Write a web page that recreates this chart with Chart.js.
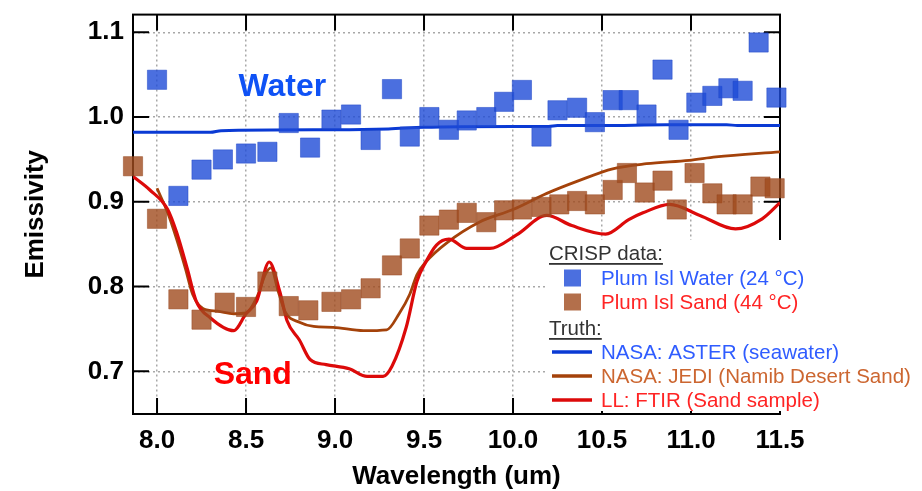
<!DOCTYPE html>
<html><head><meta charset="utf-8">
<script src="https://cdn.jsdelivr.net/npm/chart.js@4.4.0/dist/chart.umd.min.js"></script>
<style>html,body{margin:0;padding:0;background:#fff;overflow:hidden;}</style>
</head><body>
<canvas id="c" width="922" height="491"></canvas>
<script>
// ---------- data ----------
const xTicks = [8.0, 8.5, 9.0, 9.5, 10.0, 10.5, 11.0, 11.5];
const xTickLabels = ['8.0','8.5','9.0','9.5','10.0','10.5','11.0','11.5'];
const yTicks = [0.7, 0.8, 0.9, 1.0, 1.1];
const yTickLabels = ['0.7','0.8','0.9','1.0','1.1'];

const waterX = [8.00, 8.12, 8.25, 8.37, 8.50, 8.62, 8.74, 8.86, 8.98, 9.09, 9.20, 9.32, 9.42, 9.53, 9.64, 9.74, 9.85, 9.95, 10.05, 10.16, 10.25, 10.36, 10.46, 10.56, 10.65, 10.75, 10.84, 10.93, 11.03, 11.12, 11.21, 11.29, 11.38, 11.48];
const waterY = [1.044, 0.907, 0.938, 0.950, 0.957, 0.959, 0.993, 0.964, 0.997, 1.003, 0.973, 1.033, 0.977, 1.000, 0.985, 0.996, 1.000, 1.018, 1.032, 0.977, 1.008, 1.011, 0.994, 1.020, 1.020, 1.003, 1.056, 0.985, 1.017, 1.025, 1.034, 1.031, 1.088, 1.023];

const sandX = [7.865, 8.00, 8.12, 8.25, 8.38, 8.50, 8.62, 8.74, 8.85, 8.98, 9.09, 9.20, 9.32, 9.42, 9.53, 9.64, 9.74, 9.85, 9.95, 10.05, 10.16, 10.26, 10.36, 10.46, 10.56, 10.64, 10.74, 10.84, 10.92, 11.02, 11.12, 11.20, 11.29, 11.39, 11.47];
const sandY = [0.942, 0.880, 0.785, 0.761, 0.781, 0.776, 0.806, 0.777, 0.772, 0.782, 0.785, 0.798, 0.825, 0.845, 0.872, 0.879, 0.887, 0.876, 0.890, 0.891, 0.894, 0.897, 0.901, 0.897, 0.914, 0.934, 0.911, 0.925, 0.891, 0.934, 0.910, 0.897, 0.897, 0.918, 0.916];

const asterX = [7.865, 8.30, 8.36, 9.00, 9.30, 9.50, 10.00, 10.20, 10.25, 10.50, 10.86, 11.00, 11.20, 11.26, 11.50];
const asterY = [0.982, 0.982, 0.984, 0.985, 0.986, 0.988, 0.989, 0.989, 0.990, 0.990, 0.991, 0.991, 0.991, 0.990, 0.990];

const jediX = [8.00, 8.06, 8.11, 8.16, 8.20, 8.26, 8.34, 8.43, 8.50, 8.56, 8.61, 8.64, 8.68, 8.72, 8.80, 8.88, 8.99, 9.16, 9.29, 9.36, 9.42, 9.46, 9.51, 9.63, 9.81, 10.00, 10.19, 10.37, 10.56, 10.75, 10.99, 11.14, 11.50];
const jediY = [0.916, 0.887, 0.856, 0.821, 0.791, 0.774, 0.771, 0.768, 0.769, 0.787, 0.815, 0.822, 0.795, 0.770, 0.758, 0.753, 0.752, 0.748, 0.749, 0.768, 0.791, 0.814, 0.829, 0.852, 0.876, 0.891, 0.910, 0.925, 0.939, 0.945, 0.949, 0.953, 0.959];

const ftirX = [7.865, 7.96, 8.06, 8.11, 8.17, 8.22, 8.30, 8.43, 8.50, 8.56, 8.63, 8.69, 8.73, 8.80, 8.86, 8.95, 9.08, 9.18, 9.27, 9.32, 9.40, 9.46, 9.51, 9.57, 9.64, 9.74, 9.87, 10.02, 10.19, 10.33, 10.52, 10.65, 10.73, 10.88, 11.05, 11.25, 11.40, 11.50];
const ftirY = [0.930, 0.914, 0.891, 0.864, 0.821, 0.783, 0.763, 0.748, 0.768, 0.783, 0.829, 0.794, 0.760, 0.737, 0.714, 0.708, 0.703, 0.694, 0.694, 0.706, 0.752, 0.806, 0.829, 0.849, 0.856, 0.845, 0.845, 0.861, 0.884, 0.872, 0.862, 0.879, 0.887, 0.897, 0.884, 0.868, 0.880, 0.899];

const legendTexts = {
  head1: 'CRISP data:',
  water: 'Plum Isl Water (24 °C)',
  sand: 'Plum Isl Sand (44 °C)',
  head2: 'Truth:',
  aster: 'NASA: ASTER (seawater)',
  jedi: 'NASA: JEDI (Namib Desert Sand)',
  ftir: 'LL: FTIR (Sand sample)'
};
const annWater = {text: 'Water', x: 8.704, y: 1.035};
const annSand = {text: 'Sand', x: 8.538, y: 0.695};

// ---------- styles ----------
const FONT = "'Liberation Sans', Arial, sans-serif";
const C = {
  waterPt: 'rgba(30,75,215,0.80)', waterPtBorder: 'rgba(30,70,200,0.5)',
  sandPt: 'rgba(160,75,30,0.80)', sandPtBorder: 'rgba(150,70,30,0.5)',
  aster: '#0a3ad4', jedi: '#a4420a', ftir: '#dc0a0a',
  waterTxt: '#2f5cff', sandTxt: '#ff2424', jediTxt: '#cc6630', head: '#333333',
  annWater: '#0f52f5', annSand: '#ff0000'
};
const pts = (xs, ys) => xs.map((x, i) => ({x, y: ys[i]}));

const framePlugin = {
  id: 'frame',
  beforeDatasetsDraw(chart) {
    const {ctx, chartArea: a, scales: {x, y}} = chart;
    ctx.save();
    ctx.strokeStyle = '#000';
    ctx.lineWidth = 2;
    ctx.strokeRect(a.left, a.top, a.right - a.left, a.bottom - a.top);
    const L = 16;
    ctx.beginPath();
    xTicks.forEach(v => {
      const px = x.getPixelForValue(v);
      ctx.moveTo(px, a.bottom); ctx.lineTo(px, a.bottom - L);
      ctx.moveTo(px, a.top); ctx.lineTo(px, a.top + L);
    });
    yTicks.forEach(v => {
      const py = y.getPixelForValue(v);
      ctx.moveTo(a.left, py); ctx.lineTo(a.left + L, py);
      ctx.moveTo(a.right, py); ctx.lineTo(a.right - L, py);
    });
    ctx.stroke();
    ctx.restore();
  },
  afterDraw(chart) {
    const {ctx, scales: {x, y}} = chart;
    ctx.save();
    // annotations
    ctx.font = "bold 32px " + FONT;
    ctx.textAlign = 'center'; ctx.textBaseline = 'middle';
    ctx.fillStyle = C.annWater;
    ctx.fillText(annWater.text, x.getPixelForValue(annWater.x), y.getPixelForValue(annWater.y));
    ctx.fillStyle = C.annSand;
    ctx.fillText(annSand.text, x.getPixelForValue(annSand.x), y.getPixelForValue(annSand.y));
    // legend box
    const bx = 547, by = 240, bw = 922 - 547, bh = 171;
    ctx.fillStyle = '#fff';
    ctx.fillRect(bx, by, bw, bh);
    ctx.font = "20.5px " + FONT;
    ctx.textAlign = 'left'; ctx.textBaseline = 'alphabetic';
    const head = (t, yb) => {
      ctx.fillStyle = C.head;
      ctx.fillText(t, 549, yb);
      const w = ctx.measureText(t).width;
      ctx.fillRect(549, yb + 3, w, 1.8);
    };
    head(legendTexts.head1, 260);
    head(legendTexts.head2, 335);
    ctx.textBaseline = 'middle';
    const sq = (col, cy) => { ctx.fillStyle = col; ctx.fillRect(564, cy - 8.5, 17, 17); };
    sq(C.waterPt, 278); ctx.fillStyle = C.waterTxt; ctx.fillText(legendTexts.water, 601, 279);
    sq(C.sandPt, 302); ctx.fillStyle = C.sandTxt; ctx.fillText(legendTexts.sand, 601, 303);
    const ln = (col, cy) => { ctx.strokeStyle = col; ctx.lineWidth = 3.5; ctx.beginPath(); ctx.moveTo(552, cy); ctx.lineTo(592, cy); ctx.stroke(); };
    ln(C.aster, 352); ctx.fillStyle = C.waterTxt; ctx.fillText(legendTexts.aster, 601, 353);
    ln(C.jedi, 376); ctx.fillStyle = C.jediTxt; ctx.fillText(legendTexts.jedi, 601, 377);
    ln(C.ftir, 400); ctx.fillStyle = C.sandTxt; ctx.fillText(legendTexts.ftir, 601, 401);
    ctx.restore();
  }
};

const tickFont = {family: FONT, size: 26, weight: 'bold'};
const titleFont = {family: FONT, size: 26, weight: 'bold', lineHeight: 1};
const gridOpts = {color: '#a8a8a8', lineWidth: 1.5, drawTicks: false};
const borderOpts = {display: false, dash: [2, 3]};

new Chart(document.getElementById('c'), {
  type: 'scatter',
  data: {
    datasets: [
      {label: legendTexts.water, data: pts(waterX, waterY), pointStyle: 'rect', pointRadius: 13.6,
       backgroundColor: C.waterPt, borderColor: C.waterPtBorder, borderWidth: 1, order: 1, clip: false},
      {label: legendTexts.sand, data: pts(sandX, sandY), pointStyle: 'rect', pointRadius: 13.6,
       backgroundColor: C.sandPt, borderColor: C.sandPtBorder, borderWidth: 1, order: 2, clip: false},
      {label: legendTexts.ftir, data: pts(ftirX, ftirY), showLine: true, pointRadius: 0, borderColor: C.ftir,
       borderWidth: 3.2, cubicInterpolationMode: 'monotone', order: 3},
      {label: legendTexts.jedi, data: pts(jediX, jediY), showLine: true, pointRadius: 0, borderColor: C.jedi,
       borderWidth: 2.8, cubicInterpolationMode: 'monotone', order: 4},
      {label: legendTexts.aster, data: pts(asterX, asterY), showLine: true, pointRadius: 0, borderColor: C.aster,
       borderWidth: 3, cubicInterpolationMode: 'monotone', order: 5}
    ]
  },
  options: {
    responsive: false, animation: false,
    layout: {padding: {top: 7, right: 142, left: 0, bottom: 0}},
    plugins: {legend: {display: false}, tooltip: {enabled: false}},
    scales: {
      x: {
        type: 'linear', min: 7.865, max: 11.5,
        afterBuildTicks: s => { s.ticks = xTicks.map(v => ({value: v})); },
        afterFit: s => { s.height = 77; s.paddingLeft = 0; s.paddingRight = 0; },
        ticks: {font: tickFont, color: '#000', padding: 11, maxRotation: 0, autoSkip: false,
                callback: (v, i) => xTickLabels[i]},
        grid: gridOpts,
        border: borderOpts,
        title: {display: true, text: 'Wavelength (um)', color: '#000', font: titleFont, padding: {top: 0, bottom: 1}}
      },
      y: {
        type: 'linear', min: 0.6497, max: 1.1209,
        afterBuildTicks: s => { s.ticks = yTicks.map(v => ({value: v})); },
        afterFit: s => { s.width = 133; s.paddingTop = 0; s.paddingBottom = 0; },
        ticks: {font: tickFont, color: '#000', padding: 9, autoSkip: false,
                callback: (v, i) => yTickLabels[i]},
        grid: gridOpts,
        border: borderOpts,
        title: {display: true, text: 'Emissivity', color: '#000', font: titleFont, padding: {top: 23, bottom: 0}}
      }
    }
  },
  plugins: [framePlugin]
});
</script>
</body></html>
